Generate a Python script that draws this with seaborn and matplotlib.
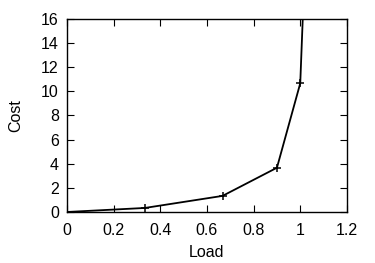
import numpy as np
import matplotlib
matplotlib.use('Agg')
import matplotlib.pyplot as plt
import seaborn as sns

# piecewise-linear link cost
load = [0.0, 1/3, 2/3, 0.9, 1.0, 1.1]
cost = [0.0, 1/3, 4/3, 11/3, 32/3, 182/3]

sns.set_style('ticks')
plt.rcParams['font.family'] = ['Liberation Sans', 'DejaVu Sans']
plt.rcParams['xtick.direction'] = 'in'
plt.rcParams['ytick.direction'] = 'in'
plt.rcParams['xtick.top'] = True
plt.rcParams['ytick.right'] = True
plt.rcParams['text.color'] = 'black'
plt.rcParams['axes.labelcolor'] = 'black'
plt.rcParams['xtick.labelcolor'] = 'black'
plt.rcParams['ytick.labelcolor'] = 'black'

fig = plt.figure(figsize=(3.75, 2.63), dpi=100)
ax = fig.add_axes([0.179, 0.194, 0.746, 0.734])

sns.lineplot(x=load, y=cost, ax=ax, color='black', linewidth=1.3,
             marker='+', markersize=6, markeredgewidth=1.1, markeredgecolor='black',
             sort=False)

ax.set_xlim(0, 1.2)
ax.set_ylim(0, 16)
ax.set_xticks(np.arange(0, 1.21, 0.2))
ax.set_xticklabels(['0', '0.2', '0.4', '0.6', '0.8', '1', '1.2'])
ax.set_yticks(range(0, 17, 2))
ax.tick_params(axis='both', labelsize=11.5, length=5, width=0.8,
               color='black', labelcolor='black')
ax.tick_params(axis='x', pad=8)
ax.tick_params(axis='y', pad=6)
for s in ax.spines.values():
    s.set_visible(True)
    s.set_linewidth(1.0)
    s.set_color('black')
ax.set_xlabel('Load', fontsize=11.5, labelpad=5, color='black')
ax.set_ylabel('Cost', fontsize=11.5, labelpad=13, color='black')

fig.savefig('out.png', dpi=100)
